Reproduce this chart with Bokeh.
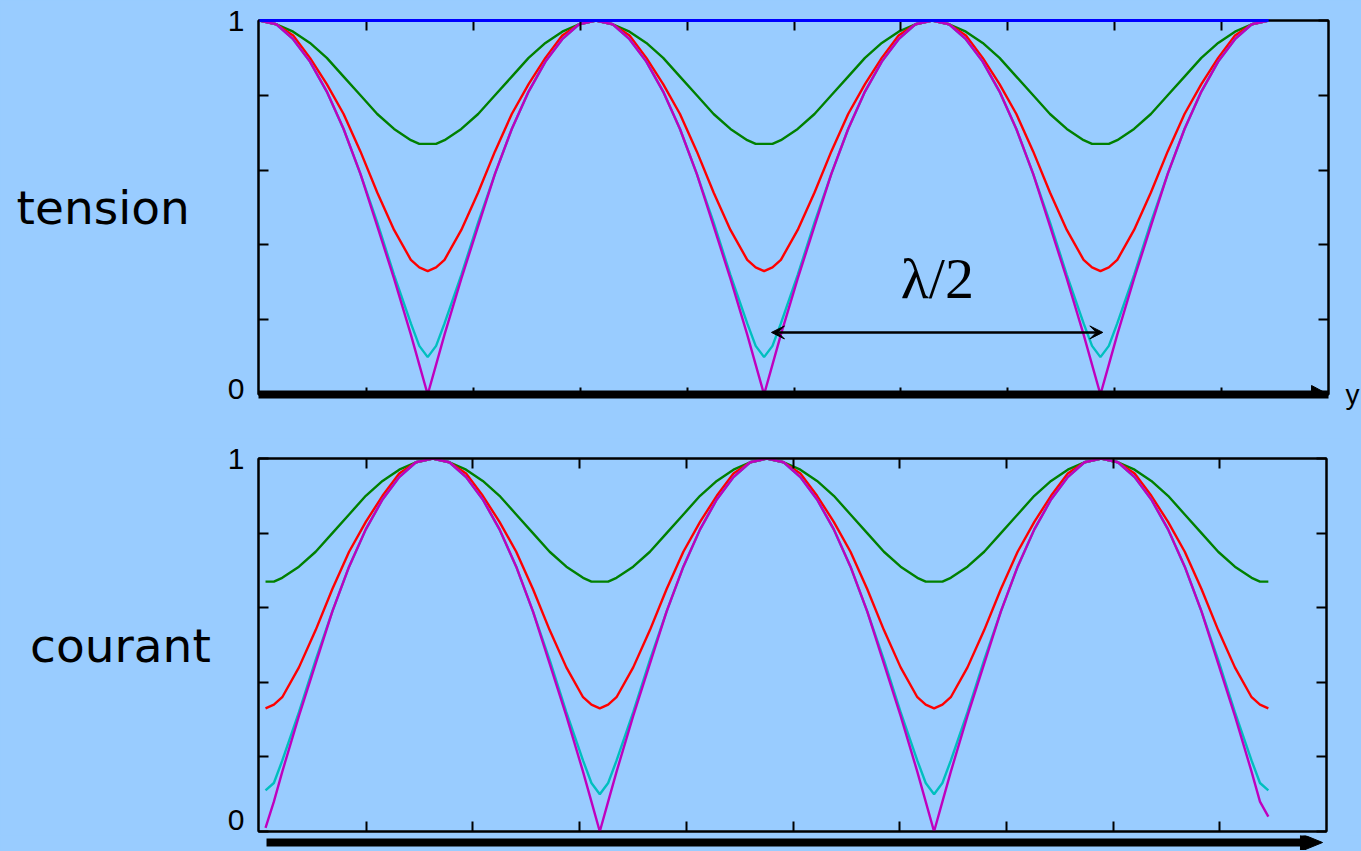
from bokeh.plotting import figure
from bokeh.layouts import column
from bokeh.models import (Range1d, FixedTicker, LinearAxis, Arrow, VeeHead,
                          Label, GlobalInlineStyleSheet)
from bokeh.embed import file_html
from bokeh.resources import INLINE

# ---------------- data (position in units of lambda/2) ----------------
pos_tension = [0.00, 0.05, 0.10, 0.15, 0.20, 0.25, 0.30, 0.35, 0.40, 0.45, 0.475,
               0.50, 0.525, 0.55, 0.60, 0.65, 0.70, 0.75, 0.80, 0.85, 0.90, 0.95,
               1.00, 1.05, 1.10, 1.15, 1.20, 1.25, 1.30, 1.35, 1.40, 1.45, 1.475,
               1.50, 1.525, 1.55, 1.60, 1.65, 1.70, 1.75, 1.80, 1.85, 1.90, 1.95,
               2.00, 2.05, 2.10, 2.15, 2.20, 2.25, 2.30, 2.35, 2.40, 2.45, 2.475,
               2.50, 2.525, 2.55, 2.60, 2.65, 2.70, 2.75, 2.80, 2.85, 2.90, 2.95,
               3.00]
pos_courant = [0.00, 0.025, 0.05, 0.10, 0.15, 0.20, 0.25, 0.30, 0.35, 0.40, 0.45,
               0.50, 0.55, 0.60, 0.65, 0.70, 0.75, 0.80, 0.85, 0.90, 0.95, 0.975,
               1.00, 1.025, 1.05, 1.10, 1.15, 1.20, 1.25, 1.30, 1.35, 1.40, 1.45,
               1.50, 1.55, 1.60, 1.65, 1.70, 1.75, 1.80, 1.85, 1.90, 1.95, 1.975,
               2.00, 2.025, 2.05, 2.10, 2.15, 2.20, 2.25, 2.30, 2.35, 2.40, 2.45,
               2.50, 2.55, 2.60, 2.65, 2.70, 2.75, 2.80, 2.85, 2.90, 2.95, 2.975,
               3.00]

# tension |V|/Vmax
blue_pos = [0.00, 3.00]
tension_blue = [1.00, 1.00]
tension_green = [1.00, 0.99, 0.97, 0.94, 0.90, 0.85, 0.80, 0.75, 0.71, 0.68, 0.67,
                 0.67, 0.67, 0.68, 0.71, 0.75, 0.80, 0.85, 0.90, 0.94, 0.97, 0.99,
                 1.00, 0.99, 0.97, 0.94, 0.90, 0.85, 0.80, 0.75, 0.71, 0.68, 0.67,
                 0.67, 0.67, 0.68, 0.71, 0.75, 0.80, 0.85, 0.90, 0.94, 0.97, 0.99,
                 1.00, 0.99, 0.97, 0.94, 0.90, 0.85, 0.80, 0.75, 0.71, 0.68, 0.67,
                 0.67, 0.67, 0.68, 0.71, 0.75, 0.80, 0.85, 0.90, 0.94, 0.97, 0.99,
                 1.00]
tension_red = [1.00, 0.99, 0.96, 0.90, 0.83, 0.75, 0.65, 0.54, 0.44, 0.36, 0.34,
               0.33, 0.34, 0.36, 0.44, 0.54, 0.65, 0.75, 0.83, 0.90, 0.96, 0.99,
               1.00, 0.99, 0.96, 0.90, 0.83, 0.75, 0.65, 0.54, 0.44, 0.36, 0.34,
               0.33, 0.34, 0.36, 0.44, 0.54, 0.65, 0.75, 0.83, 0.90, 0.96, 0.99,
               1.00, 0.99, 0.96, 0.90, 0.83, 0.75, 0.65, 0.54, 0.44, 0.36, 0.34,
               0.33, 0.34, 0.36, 0.44, 0.54, 0.65, 0.75, 0.83, 0.90, 0.96, 0.99,
               1.00]
tension_cyan = [1.00, 0.99, 0.95, 0.89, 0.81, 0.71, 0.59, 0.46, 0.32, 0.19, 0.13,
                0.10, 0.13, 0.19, 0.32, 0.46, 0.59, 0.71, 0.81, 0.89, 0.95, 0.99,
                1.00, 0.99, 0.95, 0.89, 0.81, 0.71, 0.59, 0.46, 0.32, 0.19, 0.13,
                0.10, 0.13, 0.19, 0.32, 0.46, 0.59, 0.71, 0.81, 0.89, 0.95, 0.99,
                1.00, 0.99, 0.95, 0.89, 0.81, 0.71, 0.59, 0.46, 0.32, 0.19, 0.13,
                0.10, 0.13, 0.19, 0.32, 0.46, 0.59, 0.71, 0.81, 0.89, 0.95, 0.99,
                1.00]
tension_magenta = [1.00, 0.99, 0.95, 0.89, 0.81, 0.71, 0.59, 0.45, 0.31, 0.16, 0.08,
                   0.00, 0.08, 0.16, 0.31, 0.45, 0.59, 0.71, 0.81, 0.89, 0.95, 0.99,
                   1.00, 0.99, 0.95, 0.89, 0.81, 0.71, 0.59, 0.45, 0.31, 0.16, 0.08,
                   0.00, 0.08, 0.16, 0.31, 0.45, 0.59, 0.71, 0.81, 0.89, 0.95, 0.99,
                   1.00, 0.99, 0.95, 0.89, 0.81, 0.71, 0.59, 0.45, 0.31, 0.16, 0.08,
                   0.00, 0.08, 0.16, 0.31, 0.45, 0.59, 0.71, 0.81, 0.89, 0.95, 0.99,
                   1.00]

# courant |I|/Imax
courant_green = [0.67, 0.67, 0.68, 0.71, 0.75, 0.80, 0.85, 0.90, 0.94, 0.97, 0.99,
                 1.00, 0.99, 0.97, 0.94, 0.90, 0.85, 0.80, 0.75, 0.71, 0.68, 0.67,
                 0.67, 0.67, 0.68, 0.71, 0.75, 0.80, 0.85, 0.90, 0.94, 0.97, 0.99,
                 1.00, 0.99, 0.97, 0.94, 0.90, 0.85, 0.80, 0.75, 0.71, 0.68, 0.67,
                 0.67, 0.67, 0.68, 0.71, 0.75, 0.80, 0.85, 0.90, 0.94, 0.97, 0.99,
                 1.00, 0.99, 0.97, 0.94, 0.90, 0.85, 0.80, 0.75, 0.71, 0.68, 0.67,
                 0.67]
courant_red = [0.33, 0.34, 0.36, 0.44, 0.54, 0.65, 0.75, 0.83, 0.90, 0.96, 0.99,
               1.00, 0.99, 0.96, 0.90, 0.83, 0.75, 0.65, 0.54, 0.44, 0.36, 0.34,
               0.33, 0.34, 0.36, 0.44, 0.54, 0.65, 0.75, 0.83, 0.90, 0.96, 0.99,
               1.00, 0.99, 0.96, 0.90, 0.83, 0.75, 0.65, 0.54, 0.44, 0.36, 0.34,
               0.33, 0.34, 0.36, 0.44, 0.54, 0.65, 0.75, 0.83, 0.90, 0.96, 0.99,
               1.00, 0.99, 0.96, 0.90, 0.83, 0.75, 0.65, 0.54, 0.44, 0.36, 0.34,
               0.33]
courant_cyan = [0.11, 0.13, 0.19, 0.32, 0.46, 0.59, 0.71, 0.81, 0.89, 0.95, 0.99,
                1.00, 0.99, 0.95, 0.89, 0.81, 0.71, 0.59, 0.46, 0.32, 0.19, 0.13,
                0.10, 0.13, 0.19, 0.32, 0.46, 0.59, 0.71, 0.81, 0.89, 0.95, 0.99,
                1.00, 0.99, 0.95, 0.89, 0.81, 0.71, 0.59, 0.46, 0.32, 0.19, 0.13,
                0.10, 0.13, 0.19, 0.32, 0.46, 0.59, 0.71, 0.81, 0.89, 0.95, 0.99,
                1.00, 0.99, 0.95, 0.89, 0.81, 0.71, 0.59, 0.46, 0.32, 0.19, 0.13,
                0.11]
courant_magenta = [0.01, 0.08, 0.16, 0.31, 0.45, 0.59, 0.71, 0.81, 0.89, 0.95, 0.99,
                   1.00, 0.99, 0.95, 0.89, 0.81, 0.71, 0.59, 0.45, 0.31, 0.16, 0.08,
                   0.00, 0.08, 0.16, 0.31, 0.45, 0.59, 0.71, 0.81, 0.89, 0.95, 0.99,
                   1.00, 0.99, 0.95, 0.89, 0.81, 0.71, 0.59, 0.45, 0.31, 0.16, 0.08,
                   0.00, 0.08, 0.16, 0.31, 0.45, 0.59, 0.71, 0.81, 0.89, 0.95, 0.99,
                   1.00, 0.99, 0.95, 0.89, 0.81, 0.71, 0.59, 0.45, 0.31, 0.16, 0.08,
                   0.04]

y_ticks = [0.0, 0.2, 0.4, 0.6, 0.8, 1.0]
y_tick_text = ["0", "1"]

# ---------------- styling ----------------
BG = "#99CCFF"
C_BLUE, C_GREEN, C_RED, C_CYAN, C_MAG = "#0000FF", "#008000", "#FF0000", "#00BFBF", "#BF00BF"
LW = 2.4


def style_axis(ax, tick_len, ticks):
    ax.axis_line_color = "black"
    ax.axis_line_width = 2
    ax.major_tick_in = tick_len
    ax.major_tick_out = 0
    ax.major_tick_line_width = 2
    ax.major_tick_line_color = "black"
    ax.minor_tick_line_color = None
    ax.major_label_overrides = {t: "" for t in ticks}
    ax.major_label_text_font_size = "1px"
    ax.major_label_standoff = 0


def make_panel(x0, x1, tick_lo, tick_hi, fw, fh, ml, mt, mr, mb, bottom_tick,
               bottom_width, label_pos, name, name_standoff):
    p = figure(frame_width=fw, frame_height=fh,
               min_border_left=ml, min_border_top=mt,
               min_border_right=mr, min_border_bottom=mb,
               x_range=Range1d(x0, x1), y_range=Range1d(0, 1),
               x_axis_location=None, y_axis_location=None,
               output_backend="svg", toolbar_location=None)
    p.background_fill_color = BG
    p.border_fill_color = BG
    p.outline_line_color = "black"
    p.outline_line_width = 2
    p.grid.visible = False
    xt = [tick_lo + (tick_hi - tick_lo) * k / 10 for k in range(1, 10)]

    # inner left axis: ticks only
    left = LinearAxis(ticker=FixedTicker(ticks=y_ticks))
    style_axis(left, 10, y_ticks)
    p.add_layout(left, "left")

    # outer left axis: the "0" / "1" labels and the panel name
    lab = LinearAxis(ticker=FixedTicker(ticks=label_pos))
    lab.axis_line_color = None
    lab.major_tick_line_color = None
    lab.minor_tick_line_color = None
    lab.major_tick_in = 0
    lab.major_tick_out = 0
    lab.major_label_overrides = dict(zip(label_pos, y_tick_text))
    lab.major_label_text_font = "Liberation Sans"
    lab.major_label_text_font_size = "30px"
    lab.major_label_text_color = "black"
    lab.major_label_standoff = 14
    lab.axis_label = name
    lab.axis_label_orientation = "horizontal"
    lab.axis_label_text_font = "DejaVu Sans"
    lab.axis_label_text_font_size = "47px"
    lab.axis_label_text_font_style = "normal"
    lab.axis_label_text_color = "black"
    lab.axis_label_standoff = name_standoff
    p.add_layout(lab, "left")

    top = LinearAxis(ticker=FixedTicker(ticks=xt))
    style_axis(top, 10, xt)
    p.add_layout(top, "above")
    bot = LinearAxis(ticker=FixedTicker(ticks=xt))
    style_axis(bot, bottom_tick, xt)
    bot.axis_line_width = bottom_width
    p.add_layout(bot, "below")
    return p


# ---------------- top panel: tension ----------------
p1 = make_panel(-0.003, 3.178, 0.0, 3.178, 1070, 374, 258, 20, 33, 44, 7, 8,
                [0.016, 1.0], "tension", 35)
right1 = LinearAxis(ticker=FixedTicker(ticks=y_ticks))
style_axis(right1, 10, y_ticks)
right1.major_label_overrides = {0: "y", 0.2: "", 0.4: "", 0.6: "", 0.8: "", 1: ""}
right1.major_label_text_font = "Liberation Sans"
right1.major_label_text_font_size = "28px"
right1.major_label_text_color = "black"
right1.major_label_standoff = 17
p1.add_layout(right1, "right")

p1.line(pos_tension, tension_green, line_color=C_GREEN, line_width=LW)
p1.line(pos_tension, tension_red, line_color=C_RED, line_width=LW)
p1.line(pos_tension, tension_cyan, line_color=C_CYAN, line_width=LW)
p1.line(pos_tension, tension_magenta, line_color=C_MAG, line_width=LW)
p1.line(blue_pos, tension_blue, line_color=C_BLUE, line_width=3, level="overlay")

# arrow head at the end of the thick y axis arrow (body = bottom axis line)
xe = p1.x_range.end
p1.patch([xe - 17 / 337, xe, xe - 17 / 337], [9 / 374, 0, -9 / 374],
         fill_color="black", line_color="black")

p1.add_layout(Arrow(start=VeeHead(size=13, fill_color="black", line_color="black", line_width=1),
                    end=VeeHead(size=13, fill_color="black", line_color="black", line_width=1),
                    x_start=1.522, y_start=0.166, x_end=2.507, y_end=0.166,
                    line_width=2.5, line_color="black"))
p1.add_layout(Label(x=2.015, y=0.31, text="\u03bb/2", text_font="Liberation Serif",
                    text_font_size="58px", text_align="center",
                    text_baseline="alphabetic", text_color="black"))

# ---------------- bottom panel: courant ----------------
p2 = make_panel(-0.021, 3.174, -0.018, 3.174, 1068, 373, 258, 20, 19, 4, 10, 2,
                [0.032, 1.0], "courant", 14)
right2 = LinearAxis(ticker=FixedTicker(ticks=y_ticks))
style_axis(right2, 10, y_ticks)
p2.add_layout(right2, "right")

p2.line(pos_courant, courant_green, line_color=C_GREEN, line_width=LW)
p2.line(pos_courant, courant_red, line_color=C_RED, line_width=LW)
p2.line(pos_courant, courant_cyan, line_color=C_CYAN, line_width=LW)
p2.line(pos_courant, courant_magenta, line_color=C_MAG, line_width=LW)

# ---------------- strip below: thick y arrow of the bottom panel ----------------
p3 = figure(frame_width=1087, frame_height=15, min_border_left=258, min_border_right=16,
            min_border_top=0, min_border_bottom=0,
            x_range=Range1d(-0.021, 3.2307), y_range=Range1d(0, 15),
            x_axis_location=None, y_axis_location=None,
            output_backend="svg", toolbar_location=None)
p3.background_fill_color = BG
p3.border_fill_color = BG
p3.outline_line_color = None
p3.grid.visible = False
p3.line([0.003, 3.10], [8, 8], line_color="black", line_width=8)
p3.patch([3.096, 3.162, 3.096], [-1, 8, 17], fill_color="black", line_color="black")
right3 = LinearAxis(ticker=FixedTicker(ticks=[7]))
right3.axis_line_color = None
right3.major_tick_line_color = None
right3.minor_tick_line_color = None
right3.major_tick_in = 0
right3.major_tick_out = 0
right3.major_label_overrides = {7: "y"}
right3.major_label_text_font = "Liberation Sans"
right3.major_label_text_font_size = "28px"
right3.major_label_text_color = "black"
right3.major_label_standoff = 0
p3.add_layout(right3, "right")

layout = column(p1, p2, p3, spacing=0)
layout.stylesheets = [GlobalInlineStyleSheet(css="html, body { background-color: #99CCFF; margin: 0; }")]

open("out.html", "w").write(file_html(layout, INLINE))
